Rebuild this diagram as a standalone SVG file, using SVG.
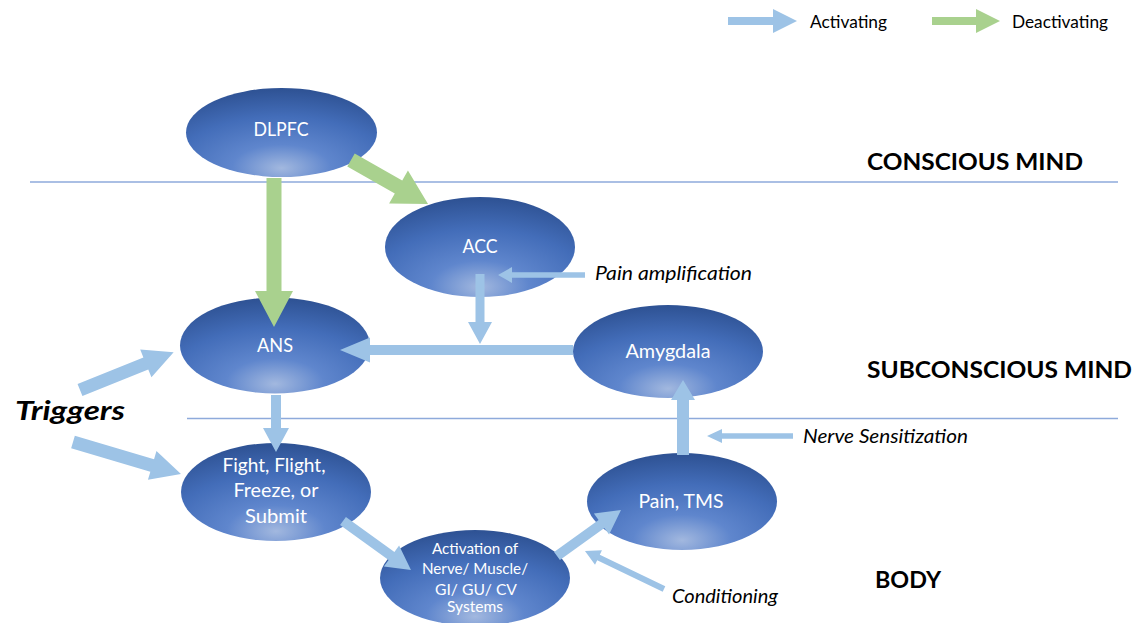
<svg xmlns="http://www.w3.org/2000/svg" width="1143" height="623" viewBox="0 0 1143 623">
  <defs>
    <radialGradient id="nodeFill" cx="0.5" cy="0.88" r="0.86" fx="0.5" fy="0.9">
      <stop offset="0" stop-color="#a2b8df"/>
      <stop offset="0.3" stop-color="#5f86cd"/>
      <stop offset="0.66" stop-color="#436db9"/>
      <stop offset="1" stop-color="#2f5395"/>
    </radialGradient>
    <style>
      .node { fill: url(#nodeFill); }
      .nl { font-family: Lato, "Open Sans", sans-serif; font-size: 18.5px; fill: #ffffff; text-anchor: middle; }
      .nl.small { font-size: 14.5px; }
      .act { fill: #9dc3e6; }
      .deact { fill: #a9d18e; }
      .divider { stroke: #8eaadb; stroke-width: 1.4; fill: none; }
      .zone { font-family: Lato, "Open Sans", sans-serif; font-weight: bold; font-size: 23px; fill: #000000; }
      .note { font-family: Lato, "Open Sans", sans-serif; font-style: italic; font-size: 18.5px; fill: #000000; }
      .legend { font-family: Lato, "Open Sans", sans-serif; font-size: 17px; fill: #000000; }
      .trig { font-family: Lato, "Open Sans", sans-serif; font-weight: bold; font-style: italic; font-size: 27px; fill: #000000; }
    </style>
  </defs>

  <rect width="1143" height="623" fill="#ffffff"/>

  <!-- level dividers -->
  <g id="dividers">
    <line class="divider" x1="30" y1="182" x2="1118" y2="182"/>
    <line class="divider" x1="187" y1="418.5" x2="1118" y2="418.5"/>
  </g>

  <!-- zone labels -->
  <g id="zones">
    <text class="zone" x="867" y="170" textLength="216" lengthAdjust="spacingAndGlyphs">CONSCIOUS MIND</text>
    <text class="zone" x="867" y="378" textLength="265" lengthAdjust="spacingAndGlyphs">SUBCONSCIOUS MIND</text>
    <text class="zone" x="875" y="588" textLength="66" lengthAdjust="spacingAndGlyphs">BODY</text>
  </g>

  <!-- legend -->
  <g id="legend">
    <polygon class="act" transform="translate(728,21)" points="0,-4 45,-4 45,-12 69,0 45,12 45,4 0,4"/>
    <text class="legend" x="810" y="28" textLength="77" lengthAdjust="spacingAndGlyphs">Activating</text>
    <polygon class="deact" transform="translate(932,21)" points="0,-4 44,-4 44,-12 68,0 44,12 44,4 0,4"/>
    <text class="legend" x="1012" y="28" textLength="96" lengthAdjust="spacingAndGlyphs">Deactivating</text>
  </g>

  <!-- nodes -->
  <g id="node-dlpfc">
    <ellipse class="node" cx="281.5" cy="132.5" rx="95.5" ry="44.5"/>
    <text class="nl" x="281" y="136" textLength="55" lengthAdjust="spacingAndGlyphs">DLPFC</text>
  </g>
  <g id="node-acc">
    <ellipse class="node" cx="480" cy="247" rx="95" ry="50"/>
    <text class="nl" x="480" y="253" textLength="35" lengthAdjust="spacingAndGlyphs">ACC</text>
  </g>
  <g id="node-ans">
    <ellipse class="node" cx="275" cy="345.5" rx="95" ry="48"/>
    <text class="nl" x="275" y="352" textLength="36" lengthAdjust="spacingAndGlyphs">ANS</text>
  </g>
  <g id="node-amygdala">
    <ellipse class="node" cx="668" cy="351.5" rx="95" ry="46.5"/>
    <text class="nl" x="668" y="358" textLength="85" lengthAdjust="spacingAndGlyphs">Amygdala</text>
  </g>
  <g id="node-response">
    <ellipse class="node" cx="276" cy="492" rx="95" ry="49"/>
    <text class="nl" x="274" y="472" textLength="103" lengthAdjust="spacingAndGlyphs">Fight, Flight,</text>
    <text class="nl" x="276" y="497" textLength="85" lengthAdjust="spacingAndGlyphs">Freeze, or</text>
    <text class="nl" x="276" y="523" textLength="62" lengthAdjust="spacingAndGlyphs">Submit</text>
  </g>
  <g id="node-activation">
    <ellipse class="node" cx="475" cy="578" rx="95" ry="48"/>
    <text class="nl small" x="475" y="554" textLength="86" lengthAdjust="spacingAndGlyphs">Activation of</text>
    <text class="nl small" x="475" y="574" textLength="106" lengthAdjust="spacingAndGlyphs">Nerve/ Muscle/</text>
    <text class="nl small" x="476" y="595" textLength="82" lengthAdjust="spacingAndGlyphs">GI/ GU/ CV</text>
    <text class="nl small" x="475" y="612" textLength="56" lengthAdjust="spacingAndGlyphs">Systems</text>
  </g>
  <g id="node-pain">
    <ellipse class="node" cx="682" cy="501.5" rx="95" ry="48.5"/>
    <text class="nl" x="681" y="508" textLength="85" lengthAdjust="spacingAndGlyphs">Pain, TMS</text>
  </g>

  <!-- connectors: block arrows, each drawn along +x then placed with translate/rotate -->
  <g id="connectors">
    <!-- deactivating -->
    <polygon class="deact" transform="translate(274,178) rotate(90)" points="0,-7.5 113,-7.5 113,-19 149,0 113,19 113,7.5 0,7.5"/>
    <polygon class="deact" transform="translate(351,160) rotate(29.7)" points="0,-7.5 54.7,-7.5 54.7,-19 88.7,0 54.7,19 54.7,7.5 0,7.5"/>
    <!-- activating -->
    <polygon class="act" transform="translate(80,390) rotate(-22)" points="0,-6.5 71,-6.5 71,-15 101,0 71,15 71,6.5 0,6.5"/>
    <polygon class="act" transform="translate(73,442) rotate(16.5)" points="0,-6.5 82.6,-6.5 82.6,-15 112.6,0 82.6,15 82.6,6.5 0,6.5"/>
    <polygon class="act" transform="translate(276,395) rotate(90)" points="0,-5 33,-5 33,-13 57,0 33,13 33,5 0,5"/>
    <polygon class="act" transform="translate(480,274) rotate(90)" points="0,-4.5 48,-4.5 48,-12 70,0 48,12 48,4.5 0,4.5"/>
    <polygon class="act" transform="translate(573,350) rotate(180)" points="0,-5 203,-5 203,-12.5 233,0 203,12.5 203,5 0,5"/>
    <polygon class="act" transform="translate(683,455) rotate(-90)" points="0,-6 55,-6 55,-12 75,0 55,12 55,6 0,6"/>
    <polygon class="act" transform="translate(343,521) rotate(35.8)" points="0,-5 59.8,-5 59.8,-13 83.8,0 59.8,13 59.8,5 0,5"/>
    <polygon class="act" transform="translate(557,556) rotate(-35.7)" points="0,-5 54.8,-5 54.8,-13 78.8,0 54.8,13 54.8,5 0,5"/>
    <!-- side influences -->
    <polygon class="act" transform="translate(585,275) rotate(180)" points="0,-2.7 73,-2.7 73,-8 87,0 73,8 73,2.7 0,2.7"/>
    <polygon class="act" transform="translate(793,436) rotate(180)" points="0,-2.7 71,-2.7 71,-7 86,0 71,7 71,2.7 0,2.7"/>
    <polygon class="act" transform="translate(664,589) rotate(205.7)" points="0,-3 72.7,-3 72.7,-8 87.7,0 72.7,8 72.7,3 0,3"/>
  </g>

  <!-- annotations -->
  <g id="annotations">
    <text class="note" x="595" y="280" textLength="157" lengthAdjust="spacingAndGlyphs">Pain amplification</text>
    <text class="note" x="803" y="443" textLength="165" lengthAdjust="spacingAndGlyphs">Nerve Sensitization</text>
    <text class="note" x="672" y="603" textLength="106" lengthAdjust="spacingAndGlyphs">Conditioning</text>
    <text class="trig" x="15" y="420" textLength="110" lengthAdjust="spacingAndGlyphs">Triggers</text>
  </g>
</svg>
